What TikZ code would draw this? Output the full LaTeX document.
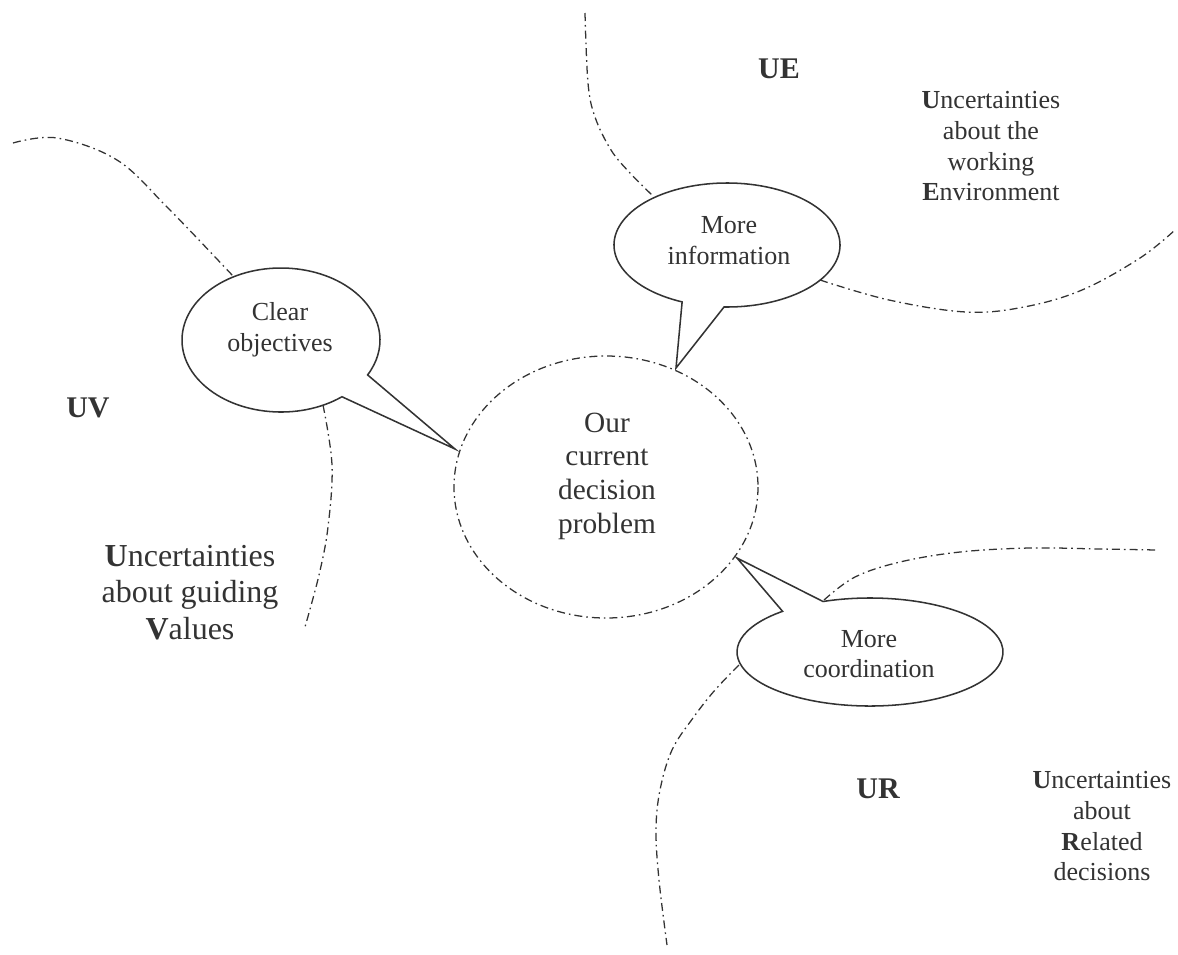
\documentclass[tikz,border=0pt]{standalone}
\usepackage{fontspec}
\setmainfont{Liberation Serif}
\definecolor{ink}{RGB}{51,51,51}
\begin{document}
\begin{tikzpicture}[x=0.75pt,y=-0.75pt,
  boundary/.style={draw=ink, line width=0.95pt, dash pattern=on 6pt off 3pt on 1.2pt off 3pt},
  bubble/.style={draw=ink, line width=1.15pt, fill=white, line join=miter},
  txt/.style={text=ink, align=center, inner sep=0pt},
  small/.style={txt, font=\fontsize{19.5}{23.25}\selectfont},
  large/.style={txt, font=\fontsize{22}{25.3}\selectfont},
  larger/.style={txt, font=\fontsize{24}{27.5}\selectfont},
  abbr/.style={text=ink, inner sep=0pt, font=\bfseries\fontsize{22.5}{27}\selectfont}]
\useasboundingbox (0,0) rectangle (1178,954);

% centres of the problem ellipse and of the three speech bubbles
\coordinate (pc) at (606,487);
\coordinate (cc) at (281,340);
\coordinate (ic) at (727,245);
\coordinate (kc) at (870,652);
% pointer tips of the bubbles
\coordinate (ctip) at (455,449);
\coordinate (itip) at (676,368);
\coordinate (ktip) at (737,558);

% region boundaries
\draw[boundary] plot[smooth, tension=0.6] coordinates {(13,143) (57,138) (117,160) (167,207) (233,276)};
\draw[boundary] plot[smooth, tension=0.6] coordinates {(323,405) (332,465) (328,527) (319,575) (305,627)};
\draw[boundary] plot[smooth, tension=0.6] coordinates {(585,13) (588,83) (595,117) (611,150) (630,173) (653,196)};
\draw[boundary] plot[smooth, tension=0.6] coordinates {(820,280) (889,300) (966,312) (1024,307) (1082,290) (1140,258) (1175,230)};
\draw[boundary] plot[smooth, tension=0.6] coordinates {(824,600) (855,577) (900,562) (960,552) (1030,548) (1100,549) (1157,550)};
\draw[boundary] plot[smooth, tension=0.6] coordinates {(739,665) (715,690) (693,718) (672,750) (660,790) (656,830) (659,880) (667,945)};

% the current decision problem
\draw[boundary] (pc) ellipse[x radius=152, y radius=131];
\node[large] (prob) at (607,476) {Our\\current\\decision\\problem};

% speech bubbles
\draw[bubble] ([shift={(52:99 and 72)}]cc) arc[start angle=52, end angle=389, x radius=99, y radius=72] -- (ctip) -- cycle;
\draw[bubble] ([shift={(113.4:113 and 62)}]ic) arc[start angle=113.4, end angle=451.5, x radius=113, y radius=62] -- (itip) -- cycle;
\draw[bubble] ([shift={(249.3:133 and 54)}]kc) arc[start angle=249.3, end angle=588.9, x radius=133, y radius=54] -- (ktip) -- cycle;

\node[small] (clear) at (280,330) {Clear\\objectives};
\node[small] (info) at (729,241) {More\\information};
\node[small, font=\fontsize{19.5}{22.5}\selectfont] (coord) at (869,654) {More\\coordination};

% region labels
\node[abbr] (ue) at (779,69) {UE};
\node[abbr] (uv) at (88,408) {UV};
\node[abbr] (ur) at (878,789) {UR};

\node[small, font=\fontsize{19.5}{23}\selectfont] (uedesc) at (991,146.5) {\textbf{U}ncertainties\\about the\\working\\\textbf{E}nvironment};
\node[small, font=\fontsize{19.5}{23}\selectfont] (urdesc) at (1102,826.5) {\textbf{U}ncertainties\\about\\\textbf{R}elated\\decisions};
\node[larger] (uvdesc) at (190,592.5) {\textbf{U}ncertainties\\about guiding\\\textbf{V}alues};
\end{tikzpicture}
\end{document}
